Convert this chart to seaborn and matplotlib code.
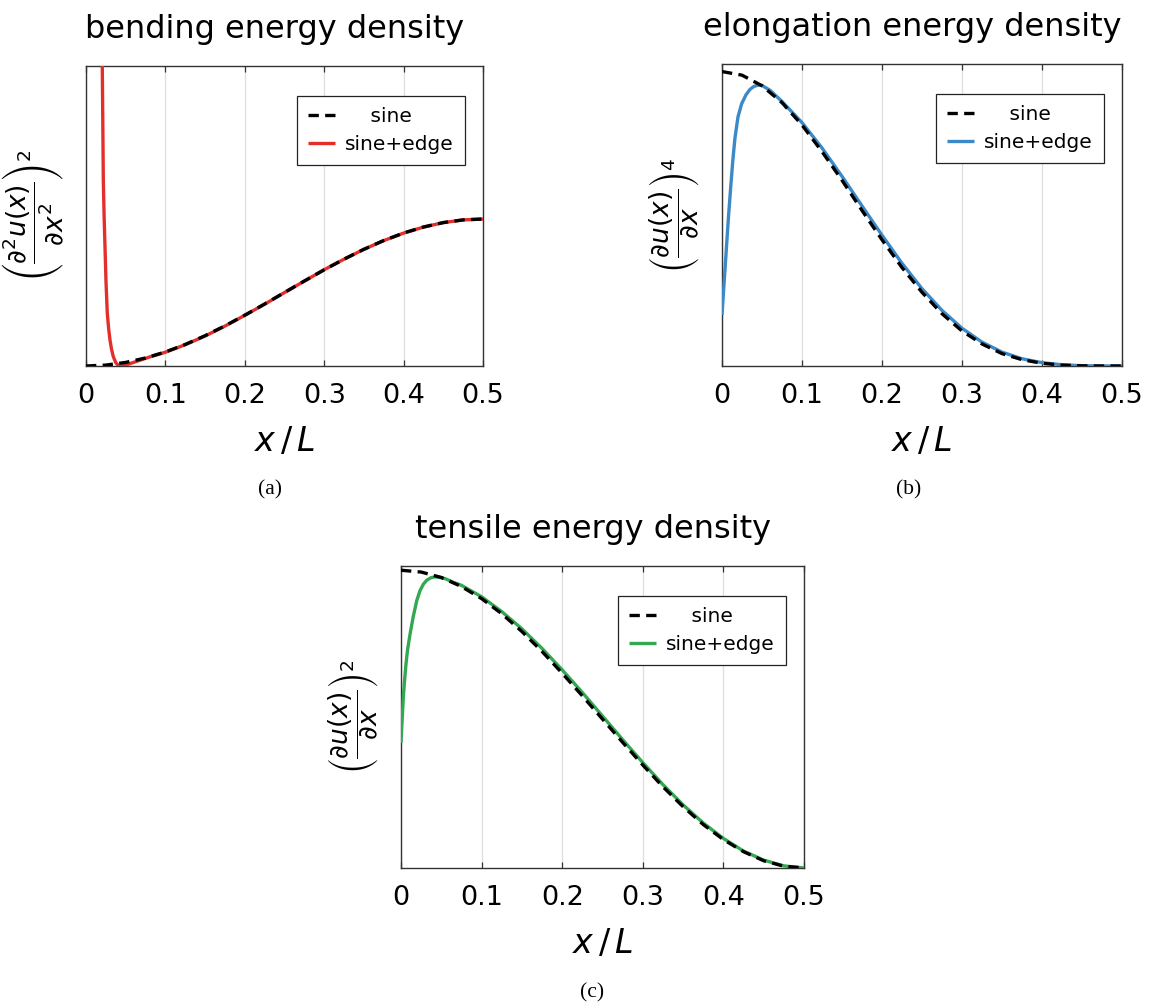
import matplotlib
matplotlib.use("Agg")
import matplotlib.pyplot as plt
import seaborn as sns
import pandas as pd

# ---- data (curves normalised to the axis height, x in units of L) ----
x_grid = [0.0, 0.025, 0.05, 0.075, 0.1, 0.125, 0.15, 0.175, 0.2, 0.225, 0.25,
          0.275, 0.3, 0.325, 0.35, 0.375, 0.4, 0.425, 0.45, 0.475, 0.5]
tick_values = [0.0, 0.1, 0.2, 0.3, 0.4, 0.5]
tick_labels = ["0", "0.1", "0.2", "0.3", "0.4", "0.5"]

# bending energy density
bend_sine = [0.0, 0.0030, 0.0120, 0.0267, 0.0468, 0.0718, 0.1010, 0.1338, 0.1693,
             0.2067, 0.2450, 0.2833, 0.3207, 0.3562, 0.3890, 0.4183, 0.4432,
             0.4633, 0.4780, 0.4870, 0.4900]
bend_edge_x = [0.018, 0.0195, 0.0205, 0.0212, 0.0218, 0.0228, 0.0239, 0.0252, 0.0268,
               0.0285, 0.0302, 0.0322, 0.0344, 0.0375, 0.0407, 0.0435, 0.047, 0.052,
               0.06, 0.07, 0.08, 0.09, 0.1, 0.125, 0.15, 0.175, 0.2, 0.225, 0.25,
               0.275, 0.3, 0.325, 0.35, 0.375, 0.4, 0.425, 0.45, 0.475, 0.5]
bend_edge = [1.40, 1.10, 1.00, 0.80, 0.62, 0.50, 0.40, 0.28, 0.176,
             0.125, 0.087, 0.055, 0.031, 0.011, 0.002, 0.0, 0.001, 0.005,
             0.012, 0.021, 0.030, 0.038, 0.046, 0.071, 0.100, 0.133, 0.169, 0.206, 0.245,
             0.283, 0.321, 0.356, 0.389, 0.418, 0.443, 0.463, 0.478, 0.487, 0.490]

# elongation energy density
elong_sine = [0.975, 0.963, 0.928, 0.872, 0.798, 0.710, 0.615, 0.515, 0.418, 0.326,
              0.244, 0.173, 0.116, 0.073, 0.041, 0.021, 0.009, 0.003, 0.0006,
              0.00004, 0.0]
elong_edge_x = [0.0, 0.002, 0.004, 0.006, 0.008, 0.0108, 0.0135, 0.0162, 0.02, 0.0245,
                0.03, 0.035, 0.04, 0.0453, 0.05, 0.06, 0.075, 0.1, 0.125, 0.15, 0.175,
                0.2, 0.225, 0.25, 0.275, 0.3, 0.325, 0.35, 0.375, 0.4, 0.425, 0.45,
                0.475, 0.5]
elong_edge = [0.169, 0.25, 0.33, 0.41, 0.49, 0.59, 0.68, 0.755, 0.825, 0.868,
              0.898, 0.916, 0.926, 0.930, 0.929, 0.913, 0.876, 0.806, 0.722, 0.628, 0.530,
              0.433, 0.340, 0.256, 0.184, 0.125, 0.079, 0.046, 0.024, 0.011, 0.004, 0.001,
              0.0001, 0.0]

# tensile energy density
tens_sine = [0.986, 0.980, 0.962, 0.932, 0.892, 0.842, 0.783, 0.717, 0.645, 0.570,
             0.493, 0.416, 0.341, 0.269, 0.203, 0.144, 0.094, 0.054, 0.024, 0.006, 0.0]
tens_edge_x = [0.0, 0.001, 0.002, 0.003, 0.0041, 0.006, 0.008, 0.0112, 0.015, 0.0195,
               0.0235, 0.0278, 0.032, 0.037, 0.042, 0.047, 0.055, 0.065, 0.075, 0.1,
               0.125, 0.15, 0.175, 0.2, 0.225, 0.25, 0.275, 0.3, 0.325, 0.35, 0.375,
               0.4, 0.425, 0.45, 0.475, 0.5]
tens_edge = [0.414, 0.47, 0.52, 0.57, 0.61, 0.67, 0.72, 0.774, 0.83, 0.885,
             0.918, 0.940, 0.953, 0.961, 0.964, 0.963, 0.958, 0.946, 0.936, 0.898,
             0.849, 0.792, 0.727, 0.656, 0.581, 0.503, 0.425, 0.349, 0.276, 0.209, 0.149,
             0.098, 0.056, 0.026, 0.007, 0.0]

labels = ["sine", "sine+edge"]

# ---- style ----
sns.set_theme(style="white")
plt.rcParams["font.family"] = ["DejaVu Sans"]
plt.rcParams["mathtext.fontset"] = "dejavusans"
plt.rcParams["text.color"] = "black"
plt.rcParams["axes.labelcolor"] = "black"
plt.rcParams["axes.titlecolor"] = "black"

SPINE = "#333333"
GRID = "#dedede"
W, H = 1154, 1006

fig = plt.figure(figsize=(W / 100, H / 100), dpi=100)


def px_axes(left, top, right, bottom):
    return fig.add_axes([left / W, 1 - bottom / H, (right - left) / W, (bottom - top) / H])


def panel(ax, title, ylabel, sx, sy, ex, ey, color):
    df_edge = pd.DataFrame({"x": ex, "y": ey})
    df_sine = pd.DataFrame({"x": sx, "y": sy})
    sns.lineplot(data=df_edge, x="x", y="y", ax=ax, color=color, lw=2.4,
                 estimator=None, sort=False, zorder=3)
    sns.lineplot(data=df_sine, x="x", y="y", ax=ax, color="black", lw=2.4,
                 estimator=None, sort=False, zorder=4)
    edge_line, sine_line = ax.lines[-2], ax.lines[-1]
    sine_line.set_dashes((3.1, 1.9))
    edge_line.set_solid_capstyle("butt")

    ax.set_xlim(0, 0.5)
    ax.set_ylim(0, 1)
    ax.set_xticks(tick_values)
    ax.set_xticklabels(tick_labels)
    ax.set_yticks([])
    ax.tick_params(axis="x", direction="in", top=True, bottom=True, length=4,
                   width=0.9, color=SPINE, labelsize=19.5, pad=12, labelcolor="black")
    ax.grid(axis="x", color=GRID, lw=0.9, zorder=0)
    ax.set_axisbelow(True)
    for s in ax.spines.values():
        s.set_visible(True)
        s.set_color(SPINE)
        s.set_linewidth(1.0)

    ax.set_xlabel(r"$x\,/\,L$", fontsize=24, labelpad=12)
    ax.set_ylabel(ylabel, fontsize=19)
    ax.yaxis.set_label_coords(-0.05, 0.5)
    ax.set_title(title, fontsize=23, pad=20, x=0.476)

    leg = ax.legend([sine_line, edge_line], ["    " + labels[0], labels[1]],
                    loc="upper right", bbox_to_anchor=(0.955, 0.90), borderaxespad=0,
                    fontsize=14.5, frameon=True, fancybox=False, framealpha=1,
                    edgecolor="#222222", handlelength=1.35, handletextpad=0.5,
                    borderpad=0.55, labelspacing=0.45)
    leg.get_frame().set_linewidth(0.9)


axA = px_axes(86, 66, 483, 366)
axB = px_axes(722, 64, 1122, 366)
axC = px_axes(401, 566, 804, 868)

panel(axA, "bending energy density",
      r"$\left(\dfrac{\partial^2 u(x)}{\partial x^2}\right)^2$",
      x_grid, bend_sine, bend_edge_x, bend_edge, "#e32e2a")
panel(axB, "elongation energy density",
      r"$\left(\dfrac{\partial u(x)}{\partial x}\right)^4$",
      x_grid, elong_sine, elong_edge_x, elong_edge, "#3b89c7")
panel(axC, "tensile energy density",
      r"$\left(\dfrac{\partial u(x)}{\partial x}\right)^2$",
      x_grid, tens_sine, tens_edge_x, tens_edge, "#33a852")

for lbl, xc, yc in [("(a)", 270, 490), ("(b)", 909, 490), ("(c)", 592, 993)]:
    fig.text(xc / W, 1 - yc / H, lbl, ha="center", va="center",
             family="Liberation Serif", fontsize=15.5)

fig.savefig("out.png", dpi=100)
